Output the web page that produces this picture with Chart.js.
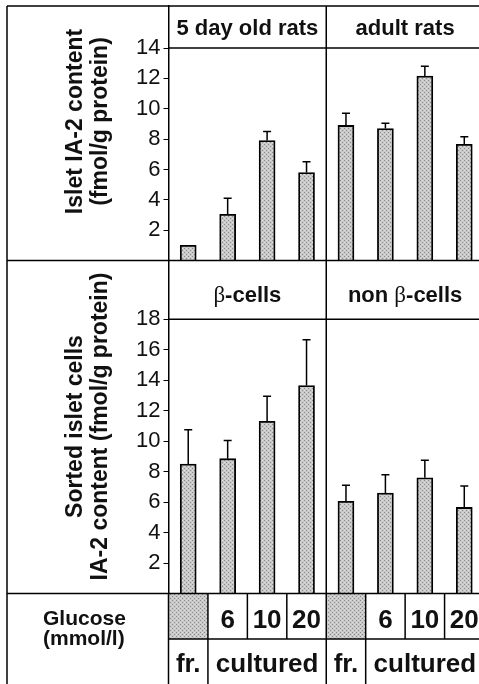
<!DOCTYPE html>
<html><head><meta charset="utf-8">
<script src="https://cdn.jsdelivr.net/npm/chart.js@4/dist/chart.umd.min.js"></script>
<style>
html,body{margin:0;padding:0;background:#fff;overflow:hidden;width:479px;height:684px}
#wrap{position:relative;width:479px;height:684px;overflow:hidden}
canvas{display:block}
</style></head><body>
<div id="wrap"><canvas id="c" width="484" height="684"></canvas></div>
<script>
// ---- data ----
const categories = ['5 d fresh', '5 d 6 mM', '5 d 10 mM', '5 d 20 mM', 'adult fresh', 'adult 6 mM', 'adult 10 mM', 'adult 20 mM'];
const glucose = ['', '6', '10', '20', '', '6', '10', '20'];
const stateLabels = ['fr.', 'cultured', 'fr.', 'cultured'];
const topGroups = ['5 day old rats', 'adult rats'];
const bottomGroups = [['', 'β', '-cells'], ['non ', 'β', '-cells']];
const isletContent = [1.0, 3.05, 7.9, 5.8, 8.9, 8.7, 12.15, 7.65];
const isletError = [0, 1.05, 0.6, 0.7, 0.8, 0.35, 0.65, 0.5];
const sortedContent = [8.5, 8.85, 11.3, 13.65, 6.05, 6.6, 7.6, 5.65];
const sortedError = [2.25, 1.2, 1.65, 3.0, 1.05, 1.2, 1.15, 1.4];
const topTicks = [2, 4, 6, 8, 10, 12, 14];
const bottomTicks = [2, 4, 6, 8, 10, 12, 14, 16, 18];
const topTitle = ['Islet IA-2 content', '(fmol/g protein)'];
const bottomTitle = ['Sorted islet cells', 'IA-2 content (fmol/g protein)'];
const glucoseTitle = ['Glucose', '(mmol/l)'];

const SANS = '"Liberation Sans", Arial, Helvetica, sans-serif';
const SERIF = '"Liberation Serif", "DejaVu Serif", serif';

const ctx = document.getElementById('c').getContext('2d');
function makePattern() {
  const p = document.createElement('canvas'); p.width = 4; p.height = 4;
  const g = p.getContext('2d');
  g.fillStyle = '#c9c9c9'; g.fillRect(0, 0, 4, 4);
  g.fillStyle = '#8a8a8a'; g.fillRect(0, 0, 1, 1); g.fillRect(2, 2, 1, 1);
  g.fillStyle = '#dedede'; g.fillRect(2, 0, 1, 1); g.fillRect(0, 2, 1, 1);
  return ctx.createPattern(p, 'repeat');
}
const fill = makePattern();

const TOP_MAX = 16.77, BOT_MAX = 21.86;

const decor = {
  id: 'decor',
  afterDatasetsDraw(chart) {
    const c = chart.ctx;
    c.save();
    c.strokeStyle = '#000'; c.lineWidth = 1.5;
    [[0, isletContent, isletError, 'yTop'], [1, sortedContent, sortedError, 'yBot']].forEach(([d, vals, errs, ax]) => {
      const meta = chart.getDatasetMeta(d); const s = chart.scales[ax];
      meta.data.forEach((bar, i) => {
        if (!errs[i]) return;
        const y0 = s.getPixelForValue(vals[i]), y1 = s.getPixelForValue(vals[i] + errs[i]);
        c.beginPath(); c.moveTo(bar.x, y0); c.lineTo(bar.x, y1);
        c.moveTo(bar.x - 4, y1); c.lineTo(bar.x + 4, y1); c.stroke();
      });
    });
    c.restore();
  },
  afterDraw(chart) {
    const c = chart.ctx, xs = chart.scales.x, yT = chart.scales.yTop, yB = chart.scales.yBot, a = chart.chartArea;
    const L = 7, T = 6, R = chart.width, B = chart.height;
    const px = i => xs.getPixelForValue(i);
    const edge = i => i <= 0 ? a.left : (i >= 8 ? a.right : (px(i - 1) + px(i)) / 2);
    const sep = yT.bottom;
    const tableTop = yB.bottom;
    const row2 = tableTop + 45.5;
    c.save();
    // gray "fresh" cells
    [0, 4].forEach(i => { c.fillStyle = fill; c.fillRect(edge(i), tableTop, edge(i + 1) - edge(i), row2 - tableTop); });
    c.strokeStyle = '#000'; c.lineWidth = 1.5;
    const line = (x1, y1, x2, y2) => { c.beginPath(); c.moveTo(x1, y1); c.lineTo(x2, y2); c.stroke(); };
    line(L, T, R, T); line(L, T, L, B);
    line(L, sep, R, sep); line(L, tableTop, R, tableTop);
    const h1 = yT.getPixelForValue(topTicks[topTicks.length - 1]);
    const h2 = yB.getPixelForValue(bottomTicks[bottomTicks.length - 1]);
    line(a.left, h1, R, h1); line(a.left, h2, R, h2);
    line(edge(4), T, edge(4), B);
    line(a.left, tableTop, a.left, B);
    line(a.left, row2, R, row2);
    [1, 2, 3, 5, 6, 7].forEach(i => line(edge(i), tableTop, edge(i), row2));
    [1, 5].forEach(i => line(edge(i), row2, edge(i), B));

    c.fillStyle = '#111';
    // group headers (top)
    c.font = 'bold 22px ' + SANS; c.textAlign = 'center'; c.textBaseline = 'alphabetic';
    topGroups.forEach((g, k) => c.fillText(g, (edge(4 * k) + edge(4 * k + 4)) / 2, T + 29));
    // group headers (bottom) with serif beta
    bottomGroups.forEach((parts, k) => {
      const fonts = ['bold 22px ' + SANS, '23px ' + SERIF, 'bold 22px ' + SANS];
      let w = 0; const ws = parts.map((p, j) => { c.font = fonts[j]; const m = c.measureText(p).width; w += m; return m; });
      let x = (edge(4 * k) + edge(4 * k + 4)) / 2 - w / 2;
      c.textAlign = 'left';
      parts.forEach((p, j) => { c.font = fonts[j]; c.fillText(p, x, sep + 41); x += ws[j]; });
    });
    // y titles (rotated)
    c.font = 'bold 23px ' + SANS; c.textAlign = 'center';
    const rot = (txt, x, y) => { c.save(); c.translate(x, y); c.rotate(-Math.PI / 2); c.fillText(txt, 0, 0); c.restore(); };
    rot(topTitle[0], 82, T + 115.5); rot(topTitle[1], 107, T + 115.5);
    rot(bottomTitle[0], 82, sep + 166); rot(bottomTitle[1], 107, sep + 166);
    // table
    c.font = 'bold 21px ' + SANS; c.textAlign = 'left';
    c.fillText(glucoseTitle[0], 43, tableTop + 31.5);
    c.fillText(glucoseTitle[1], 43, tableTop + 51.5);
    c.font = 'bold 26px ' + SANS; c.textAlign = 'center';
    glucose.forEach((g, i) => { if (g) c.fillText(g, (edge(i) + edge(i + 1)) / 2, tableTop + 34.5); });
    const spans = [[0, 1], [1, 4], [4, 5], [5, 8]];
    stateLabels.forEach((s, k) => c.fillText(s, (edge(spans[k][0]) + edge(spans[k][1])) / 2, tableTop + 78.5));
    c.restore();
  }
};

function yAxis(ticks, max, weight, stackWeight) {
  return {
    type: 'linear', position: 'left', stack: 'panels', stackWeight: stackWeight, weight: weight,
    min: 0, max: max,
    ticks: { font: { family: SANS, size: 22 }, color: '#111', padding: 3, autoSkip: false },
    grid: { drawOnChartArea: false, drawTicks: true, tickLength: 5, color: '#000', lineWidth: 1 },
    border: { display: true, color: '#000', width: 1.5 },
    afterBuildTicks: s => { s.ticks = ticks.map(v => ({ value: v })); },
    afterFit: s => { s.width = 161.5; s.paddingTop = 0; s.paddingBottom = 0; }
  };
}

new Chart(ctx, {
  type: 'bar',
  data: {
    labels: categories,
    datasets: [
      { label: 'Islet IA-2 content', data: isletContent, yAxisID: 'yTop', backgroundColor: fill, borderColor: '#000', borderWidth: 1.8, grouped: false, barThickness: 16 },
      { label: 'Sorted islet cells IA-2 content', data: sortedContent, yAxisID: 'yBot', backgroundColor: fill, borderColor: '#000', borderWidth: 1.8, grouped: false, barThickness: 16 }
    ]
  },
  options: {
    responsive: false, animation: false, devicePixelRatio: 1,
    layout: { padding: { left: 7, top: 6, right: 0, bottom: 90.5 } },
    plugins: { legend: { display: false }, tooltip: { enabled: false }, title: { display: false } },
    scales: {
      x: { display: false, offset: true },
      yTop: yAxis(topTicks, TOP_MAX, 2, 254.5),
      yBot: yAxis(bottomTicks, BOT_MAX, 1, 333)
    }
  },
  plugins: [decor]
});
</script>
</body></html>
